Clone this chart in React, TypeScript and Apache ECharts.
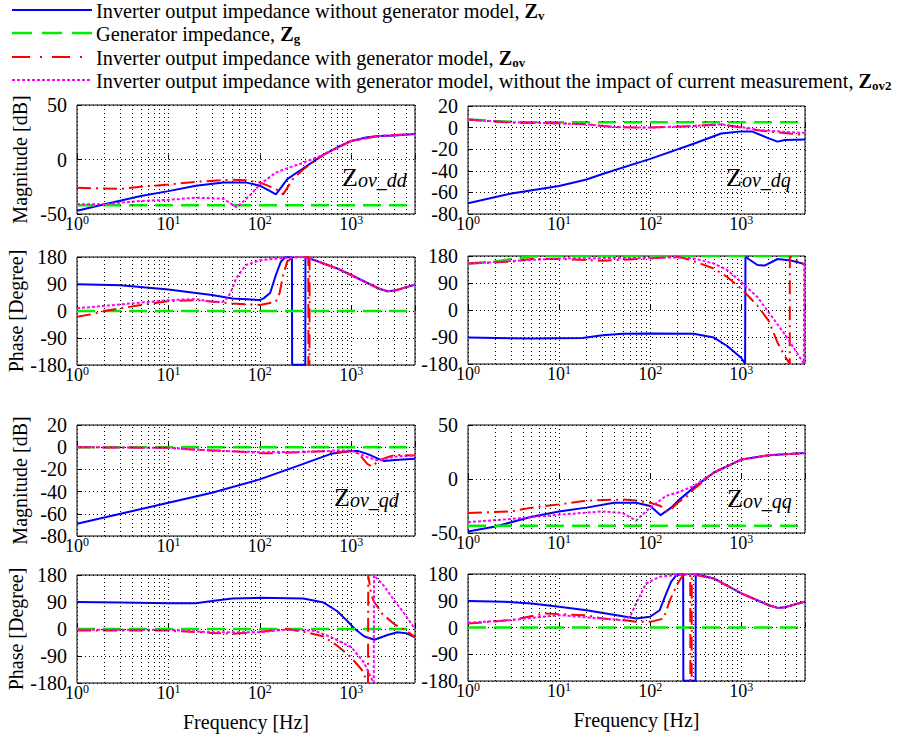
import React, { useEffect, useRef } from 'react';
import * as echarts from 'echarts';

type P = [number, number];

const FONT = '"Liberation Serif", "Times New Roman", serif';
const FREQ_MIN = 1;
const FREQ_MAX = 5000;
const MINOR_FREQS = [2, 3, 4, 5, 6, 7, 8, 9, 20, 30, 40, 50, 60, 70, 80, 90, 200, 300, 400, 500, 600, 700, 800, 900, 2000, 3000, 4000];

// ---------- Z_ov_dd magnitude ----------
const DD_MAG_ZV: P[] = [[1, -47], [2, -41], [5, -33.5], [10, -29], [20, -24], [40, -21], [70, -21], [100, -24], [130, -29], [150, -32], [170, -26], [200, -18], [300, -8], [500, 4.5], [700, 11], [1000, 17], [1500, 20.5], [2000, 21.5], [3000, 22], [5000, 23.5]];
const DD_MAG_ZG: P[] = [[1, -42], [5000, -42]];
const DD_MAG_ZOV: P[] = [[1, -26], [3, -27], [5, -25], [10, -23], [20, -20.5], [50, -18.5], [70, -19], [100, -21], [150, -27], [180, -32], [200, -26], [230, -18], [300, -9], [500, 4.5], [1000, 17], [2000, 21.5], [5000, 23.5]];
const DD_MAG_ZOV2: P[] = [[1, -41], [2, -41], [5, -38], [10, -37], [20, -35], [40, -36], [56, -44], [80, -32], [100, -23], [150, -12], [200, -8], [300, -3], [500, 4.5], [1000, 17], [2000, 21.5], [5000, 23.5]];

// ---------- Z_ov_dq magnitude ----------
const DQ_MAG_ZV: P[] = [[1, -70], [3, -61], [10, -54], [20, -48], [30, -43], [100, -29], [300, -15], [600, -5.5], [1000, -3.5], [1300, -3.5], [2000, -10], [2500, -13], [3000, -11.5], [5000, -11]];
const DQ_MAG_ZG: P[] = [[1, 7.5], [2, 6], [4, 5], [5000, 5]];
const DQ_MAG_ZOV: P[] = [[1, 7.5], [3, 4.5], [10, 4], [20, 3], [40, 0.5], [100, 0], [300, 1.5], [600, 3], [1000, 0], [1500, -2.5], [3000, -5], [5000, -7]];
const DQ_MAG_ZOV2: P[] = [[1, 7.5], [3, 5], [10, 4], [20, 3], [40, 0.5], [100, 0], [300, 1.5], [600, 3], [1000, 0.5], [1500, -2], [3000, -4], [5000, -5]];

// ---------- Z_ov_dd phase ----------
const DD_PH_ZV: P[] = [[1, 89], [3, 86], [10, 72], [30, 53], [50, 42], [100, 36.5], [110, 42], [130, 60], [150, 120], [170, 164], [190, 179], [225, 179], [226, -179], [315, -179], [316, 179], [400, 169], [700, 142], [1000, 120], [2000, 75], [2500, 66], [3000, 68], [5000, 88]];
const DD_PH_ZG: P[] = [[1, 0], [5000, 0]];
const DD_PH_ZOV: P[] = [[1, -19], [1.5, -10], [2, 0], [5, 20], [10, 33], [20, 36], [50, 25], [100, 20], [150, 31], [165, 60], [180, 120], [200, 165], [230, 179], [340, 179], [341, -179], [350, -179], [351, 179], [400, 169], [700, 142], [1000, 120], [2000, 75], [2500, 66], [3000, 68], [5000, 88]];
const DD_PH_ZOV2: P[] = [[1, 9], [3, 22], [10, 36], [20, 40], [30, 31], [40, 31], [45, 45], [50, 75], [55, 108], [70, 153], [100, 169], [200, 178], [300, 179.5], [400, 169], [700, 142], [1000, 120], [2000, 75], [2500, 66], [3000, 68], [5000, 88]];

// ---------- Z_ov_dq phase ----------
const DQ_PH_ZV: P[] = [[1, -92], [5, -95], [18, -93], [30, -84], [50, -79], [100, -78], [300, -79], [500, -92], [700, -120], [1000, -160], [1100, -179], [1110, 179], [1200, 170], [1500, 150], [1800, 148], [2500, 170], [3500, 165], [5000, 153]];
const DQ_PH_ZG: P[] = [[1, 155], [2, 162], [3, 170], [5, 178], [10, 180], [5000, 180]];
const DQ_PH_ZOV: P[] = [[1, 155], [3, 161], [5, 170], [10, 170], [30, 164], [100, 172], [200, 178], [300, 163], [500, 138], [700, 110], [1000, 71], [1500, 15], [2000, -36], [2500, -109], [3000, -154], [3400, -179], [3410, 179], [5000, 150]];
const DQ_PH_ZOV2: P[] = [[1, 155], [10, 172], [100, 174], [200, 175], [300, 172], [500, 155], [700, 133], [1000, 93], [1500, 43], [2000, -8], [3000, -81], [4850, -178], [4900, 160], [5000, 155]];

// ---------- Z_ov_qd magnitude ----------
const QD_MAG_ZV: P[] = [[1, -69], [3, -60], [10, -50], [30, -41], [100, -29], [300, -15], [600, -6], [1000, -3.5], [1200, -3.5], [1500, -6], [2000, -10.5], [2300, -12.5], [3000, -11.5], [5000, -10.5]];
const QD_MAG_ZG: P[] = [[1, 0], [5000, 0]];
const QD_MAG_ZOV: P[] = [[1, 0], [10, -0.6], [20, -2.4], [50, -3.6], [100, -5.4], [150, -5.4], [300, -4.5], [500, -3.6], [700, -4.5], [1000, -3.6], [1200, -5.4], [1500, -15], [1700, -17.5], [2000, -12], [2500, -9], [3000, -7], [5000, -7.5]];
const QD_MAG_ZOV2: P[] = [[1, 0], [10, -0.6], [30, -3], [100, -4.5], [300, -4.2], [700, -3], [1000, -3], [1500, -9], [2000, -12], [3000, -8.5], [5000, -7.5]];

// ---------- Z_ov_qq magnitude ----------
const QQ_MAG_ZV: P[] = [[1, -48.7], [2, -44], [5, -35], [10, -30], [20, -26.5], [40, -22], [70, -22], [100, -25], [130, -33.5], [170, -26.5], [200, -20.5], [300, -8], [500, 6], [1000, 18], [2000, 22], [5000, 24]];
const QQ_MAG_ZG: P[] = [[1, -43.4], [5000, -43.4]];
const QQ_MAG_ZOV: P[] = [[1, -31.5], [3, -30], [5, -26.5], [10, -23.5], [20, -20], [50, -19], [70, -20], [100, -22], [130, -25], [150, -30], [170, -28], [200, -22], [250, -16.5], [300, -9.5], [500, 6], [1000, 18], [2000, 22], [5000, 24]];
const QQ_MAG_ZOV2: P[] = [[1, -40], [3, -37], [10, -33], [30, -30], [50, -31.5], [70, -38.5], [100, -26.5], [150, -15.5], [200, -12.5], [300, -6.5], [500, 6], [1000, 18], [2000, 22], [5000, 24]];

// ---------- Z_ov_qd phase ----------
const QD_PH_ZV: P[] = [[1, 90], [3, 88], [10, 86], [20, 86], [30, 93], [50, 102], [100, 104], [300, 102], [500, 88], [700, 60], [900, 28], [1100, 0], [1400, -25], [1800, -36], [2500, -20], [3200, -11], [4000, -14], [5000, -28]];
const QD_PH_ZG: P[] = [[1, 0], [5000, 0]];
const QD_PH_ZOV: P[] = [[1, -5], [10, -5], [30, -13], [50, -16], [100, -9], [200, 0], [300, -9], [500, -25], [700, -55], [1000, -95], [1300, -135], [1500, -175], [1530, -179], [1540, 179], [1650, 120], [1750, 95], [2200, 50], [3000, 15], [4000, -5], [5000, -27]];
const QD_PH_ZOV2: P[] = [[1, -2], [10, -3], [30, -11], [100, -11], [200, -2], [400, -6], [600, -27], [1000, -60], [1370, -110], [1700, -170], [1770, -179], [1780, 179], [2300, 143], [2900, 99], [3750, 55], [5000, 0]];

// ---------- Z_ov_qq phase ----------
const QQ_PH_ZV: P[] = [[1, 89], [2.5, 87], [5, 81], [10, 70], [20, 58], [50, 38], [70, 30], [100, 36], [127, 58], [150, 115], [170, 154], [195, 177], [230, 179], [231, -179], [315, -179], [316, 179], [500, 165], [1000, 115], [2000, 75], [2500, 66], [3000, 68], [5000, 87]];
const QQ_PH_ZG: P[] = [[1, 0], [5000, 0]];
const QQ_PH_ZOV: P[] = [[1, 13.5], [3, 25], [7, 47], [10, 45], [20, 41], [30, 30], [50, 25], [70, 19], [100, 19], [140, 30], [165, 92], [200, 148], [230, 177], [275, 179], [276, -179], [285, -179], [286, 179], [500, 165], [1000, 115], [2000, 75], [2500, 66], [3000, 68], [5000, 87]];
const QQ_PH_ZOV2: P[] = [[1, 16], [3, 25], [10, 42], [20, 34], [50, 25], [60, 36], [70, 81], [90, 148], [127, 171], [200, 177], [300, 180], [500, 165], [1000, 115], [2000, 75], [2500, 66], [3000, 68], [5000, 87]];

// panel order: dd mag, dq mag, dd phase, dq phase, qd mag, qq mag, qd phase, qq phase
const PANEL_DATA: P[][][] = [
  [DD_MAG_ZV, DD_MAG_ZG, DD_MAG_ZOV, DD_MAG_ZOV2],
  [DQ_MAG_ZV, DQ_MAG_ZG, DQ_MAG_ZOV, DQ_MAG_ZOV2],
  [DD_PH_ZV, DD_PH_ZG, DD_PH_ZOV, DD_PH_ZOV2],
  [DQ_PH_ZV, DQ_PH_ZG, DQ_PH_ZOV, DQ_PH_ZOV2],
  [QD_MAG_ZV, QD_MAG_ZG, QD_MAG_ZOV, QD_MAG_ZOV2],
  [QQ_MAG_ZV, QQ_MAG_ZG, QQ_MAG_ZOV, QQ_MAG_ZOV2],
  [QD_PH_ZV, QD_PH_ZG, QD_PH_ZOV, QD_PH_ZOV2],
  [QQ_PH_ZV, QQ_PH_ZG, QQ_PH_ZOV, QQ_PH_ZOV2],
];
const Y_MIN = [-50, -80, -180, -180, -80, -50, -180, -180];
const Y_MAX = [50, 20, 180, 180, 20, 50, 180, 180];
const Y_STEP = [50, 20, 90, 90, 20, 50, 90, 90];
const Y_NAMES = ['Magnitude [dB]', '', 'Phase [Degree]', '', 'Magnitude [dB]', '', 'Phase [Degree]', ''];
const X_NAMES = ['', '', '', '', '', '', 'Frequency [Hz]', 'Frequency [Hz]'];
const TITLE_SUBS = ['ov_dd', 'ov_dq', 'ov_qd', 'ov_qq'];

const SERIES_NAMES = ['Zv', 'Zg', 'Zov', 'Zov2'];
const LEGEND_TEXTS = [
  'Inverter output impedance without generator model, {b|Z}{s|v}',
  'Generator impedance, {b|Z}{s|g}',
  'Inverter output impedance with generator model, {b|Z}{s|ov}',
  'Inverter output impedance with generator model, without the impact of current measurement, {b|Z}{s|ov2}',
];

// layout / style
const GRIDS = [
  { left: 77, top: 105, width: 338, height: 109 },
  { left: 468, top: 106, width: 337, height: 108 },
  { left: 77, top: 257, width: 338, height: 108 },
  { left: 468, top: 256, width: 337, height: 108 },
  { left: 77, top: 425, width: 338, height: 111 },
  { left: 468, top: 425, width: 337, height: 108 },
  { left: 77, top: 575, width: 338, height: 108 },
  { left: 468, top: 574, width: 337, height: 107 },
];
const TITLE_POS = [[342, 177], [726, 177], [334, 497], [727, 498]];
const STYLES = [
  { color: '#0000ff', width: 2, type: 'solid' as any, legendDash: null as any },
  { color: '#00ee00', width: 2.5, type: [18, 8] as any, legendDash: [20, 10] as any },
  { color: '#ff0000', width: 2, type: [14, 5, 2, 5] as any, legendDash: [18, 10, 2, 10] as any },
  { color: '#ff00ff', width: 2, type: [3, 2] as any, legendDash: [3, 2] as any },
];
const LEGEND_Y = [10, 33, 57, 80];
const FS = 20;

export default function App() {
  const ref = useRef<HTMLDivElement>(null);
  useEffect(() => {
    if (!ref.current) return;
    const chart = echarts.init(ref.current, undefined, { renderer: 'svg' });
    const grids = GRIDS.map((g) => ({ ...g, show: true, borderColor: '#000', borderWidth: 1, backgroundColor: '#fff' }));
    const gridLine = { color: '#000', width: 1, type: [1, 3] as any };
    const xAxes = GRIDS.map((_, i) => ({
      type: 'log', logBase: 10, gridIndex: i, min: FREQ_MIN, max: FREQ_MAX,
      axisLine: { show: false },
      axisTick: { show: true, inside: true, length: 5, lineStyle: { color: '#000' } },
      axisLabel: {
        color: '#000', fontFamily: FONT, fontSize: 17, margin: 1,
        formatter: (v: number) => {
          const e = Math.log10(v);
          const r = Math.round(e);
          if (Math.abs(e - r) > 1e-6) return '';
          return `{a|10}{b|${r}}`;
        },
        rich: {
          a: { fontSize: 18, fontFamily: FONT, color: '#000', lineHeight: 18 },
          b: { fontSize: 12, fontFamily: FONT, color: '#000', lineHeight: 12, padding: [0, 0, 9, 0] },
        },
      },
      splitLine: { show: true, lineStyle: gridLine },
      name: X_NAMES[i], nameLocation: 'middle', nameGap: 29,
      nameTextStyle: { color: '#000', fontFamily: FONT, fontSize: FS },
    }));
    const yAxes = GRIDS.map((_, i) => ({
      type: 'value', gridIndex: i, min: Y_MIN[i], max: Y_MAX[i], interval: Y_STEP[i],
      axisLine: { show: false },
      axisTick: { show: true, inside: true, length: 5, lineStyle: { color: '#000' } },
      axisLabel: { color: '#000', fontFamily: FONT, fontSize: FS, margin: 10, lineHeight: 14 },
      splitLine: { show: true, lineStyle: gridLine },
      name: Y_NAMES[i], nameLocation: 'middle', nameGap: 47, nameRotate: 90,
      nameTextStyle: { color: '#000', fontFamily: FONT, fontSize: FS },
    }));
    const series: any[] = [];
    GRIDS.forEach((_, i) => {
      series.push({
        type: 'line', xAxisIndex: i, yAxisIndex: i, data: [], silent: true, z: 1,
        markLine: {
          silent: true, symbol: ['none', 'none'], label: { show: false },
          lineStyle: gridLine, emphasis: { disabled: true },
          data: MINOR_FREQS.map((f) => ({ xAxis: f })),
        },
      });
      PANEL_DATA[i].forEach((d, k) => {
        series.push({
          name: SERIES_NAMES[k], type: 'line', xAxisIndex: i, yAxisIndex: i, data: d,
          showSymbol: false, symbol: 'none', z: 3, silent: true,
          lineStyle: { color: STYLES[k].color, width: STYLES[k].width, type: STYLES[k].type },
        });
      });
    });
    const graphics: any[] = [];
    LEGEND_TEXTS.forEach((t, k) => {
      graphics.push({
        type: 'line', shape: { x1: 12, y1: LEGEND_Y[k], x2: 92, y2: LEGEND_Y[k] },
        style: { stroke: STYLES[k].color, lineWidth: STYLES[k].width, lineDash: STYLES[k].legendDash },
      });
      graphics.push({
        type: 'text', x: 96, y: LEGEND_Y[k] + 1,
        style: {
          text: t, fill: '#000', fontFamily: FONT, fontSize: 20.3, verticalAlign: 'middle', align: 'left',
          rich: {
            b: { fontFamily: FONT, fontSize: 20.3, fontWeight: 'bold', fill: '#000' },
            s: { fontFamily: FONT, fontSize: 13, fontWeight: 'bold', fill: '#000', padding: [8, 0, 0, 0] },
          },
        },
      });
    });
    TITLE_POS.forEach((p, k) => {
      graphics.push({
        type: 'text', x: p[0], y: p[1], z: 10,
        style: {
          text: `{z|Z}{s|${TITLE_SUBS[k]}}`, fill: '#000', verticalAlign: 'middle', align: 'left',
          rich: {
            z: { fontFamily: FONT, fontSize: 26, fill: '#000' },
            s: { fontFamily: FONT, fontSize: 20, fontStyle: 'italic', fill: '#000', padding: [6, 0, 0, 0] },
          },
        },
      });
    });
    chart.setOption({
      animation: false,
      backgroundColor: '#fff',
      grid: grids,
      xAxis: xAxes,
      yAxis: yAxes,
      series,
      graphic: graphics,
    });
    return () => chart.dispose();
  }, []);
  return <div ref={ref} style={{ position: 'absolute', left: 0, top: 0, width: 898, height: 738 }} />;
}
